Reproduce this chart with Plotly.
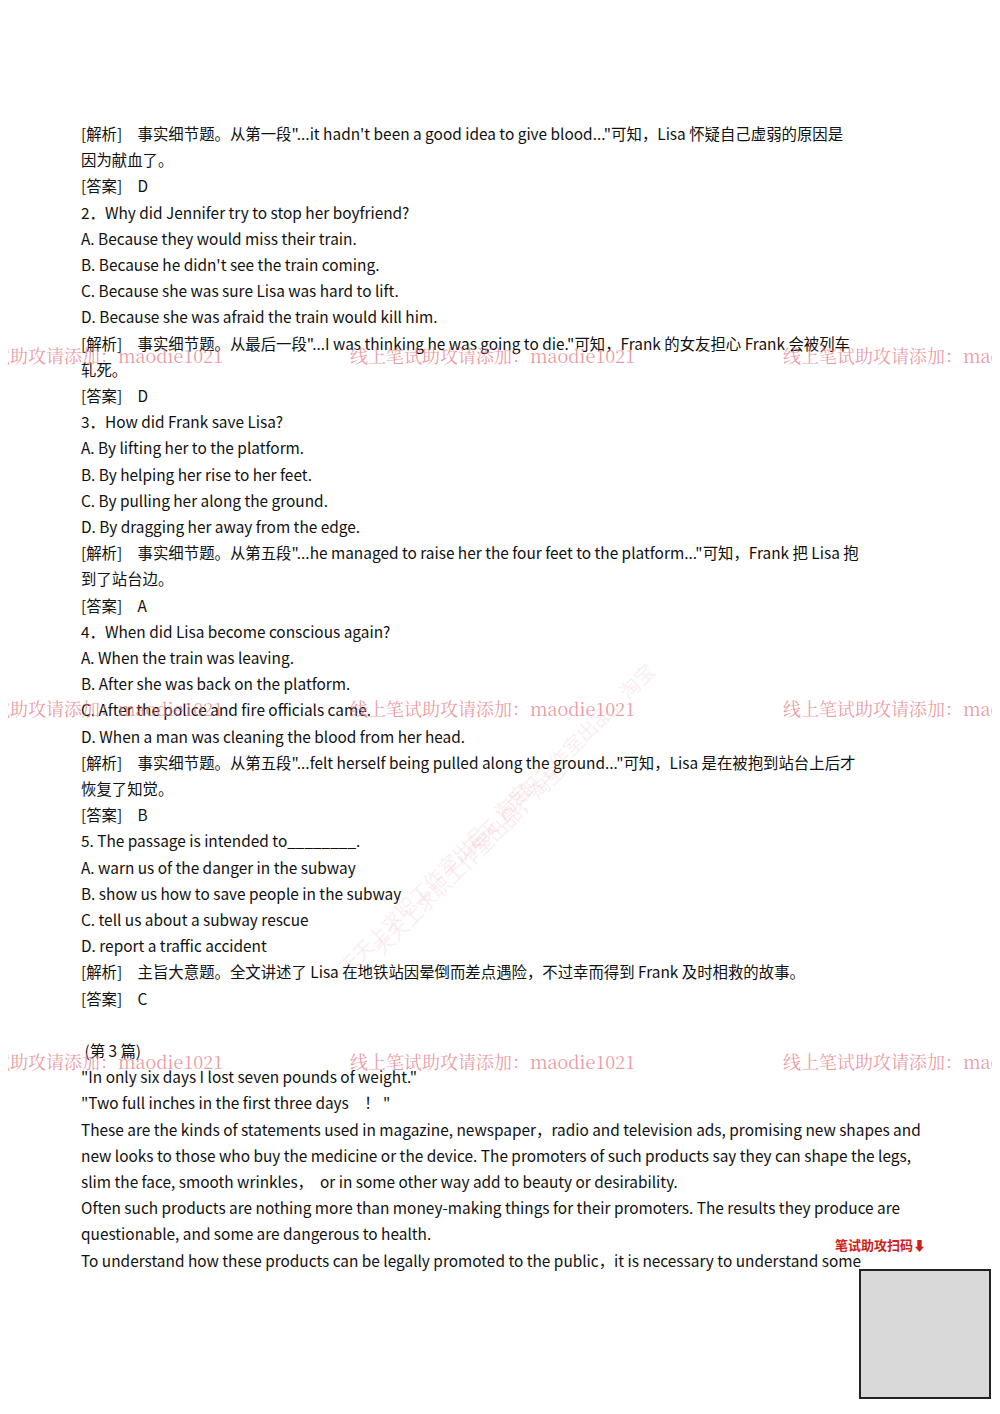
import plotly.graph_objects as go

# document lines (one entry per printed line, "" = blank line)
lines = [
    "[解析]　事实细节题。从第一段\"...it hadn't been a good idea to give blood...\"可知，Lisa 怀疑自己虚弱的原因是",
    "因为献血了。",
    "[答案]　D",
    "2．Why did Jennifer try to stop her boyfriend?",
    "A. Because they would miss their train.",
    "B. Because he didn't see the train coming.",
    "C. Because she was sure Lisa was hard to lift.",
    "D. Because she was afraid the train would kill him.",
    "[解析]　事实细节题。从最后一段\"...I was thinking he was going to die.\"可知，Frank 的女友担心 Frank 会被列车",
    "轧死。",
    "[答案]　D",
    "3．How did Frank save Lisa?",
    "A. By lifting her to the platform.",
    "B. By helping her rise to her feet.",
    "C. By pulling her along the ground.",
    "D. By dragging her away from the edge.",
    "[解析]　事实细节题。从第五段\"...he managed to raise her the four feet to the platform...\"可知，Frank 把 Lisa 抱",
    "到了站台边。",
    "[答案]　A",
    "4．When did Lisa become conscious again?",
    "A. When the train was leaving.",
    "B. After she was back on the platform.",
    "C. After the police and fire officials came.",
    "D. When a man was cleaning the blood from her head.",
    "[解析]　事实细节题。从第五段\"...felt herself being pulled along the ground...\"可知，Lisa 是在被抱到站台上后才",
    "恢复了知觉。",
    "[答案]　B",
    "5. The passage is intended to________.",
    "A. warn us of the danger in the subway",
    "B. show us how to save people in the subway",
    "C. tell us about a subway rescue",
    "D. report a traffic accident",
    "[解析]　主旨大意题。全文讲述了 Lisa 在地铁站因晕倒而差点遇险，不过幸而得到 Frank 及时相救的故事。",
    "[答案]　C",
    "",
    " (第 3 篇)",
    "\"In only six days I lost seven pounds of weight.\"",
    "\"Two full inches in the first three days　！ \"",
    "These are the kinds of statements used in magazine, newspaper，radio and television ads, promising new shapes and",
    "new looks to those who buy the medicine or the device. The promoters of such products say they can shape the legs,",
    "slim the face, smooth wrinkles，  or in some other way add to beauty or desirability.",
    "Often such products are nothing more than money-making things for their promoters. The results they produce are",
    "questionable, and some are dangerous to health.",
    "To understand how these products can be legally promoted to the public，it is necessary to understand some",
]
watermark = "线上笔试助攻请添加：maodie1021"
watermark_rows = [357, 710, 1063]
watermark_cols = [-72, 340, 773]

W, H = 1000, 1414
fig = go.Figure()
top, step = 125, 26.2

for i, t in enumerate(lines):
    if not t:
        continue
    fig.add_annotation(
        x=71 / W, y=1 - (top + i * step) / H, xref="paper", yref="paper",
        text=t, showarrow=False, xanchor="left", yanchor="middle",
        font=dict(family="Noto Sans CJK SC, Noto Sans", size=15.4, color="#111"))

for ry in watermark_rows:
    for cx in watermark_cols:
        fig.add_annotation(
            x=cx / W, y=1 - (ry - 10) / H, xref="paper", yref="paper",
            text=watermark, showarrow=False, xanchor="left", yanchor="middle",
            font=dict(family="Noto Serif CJK SC, DejaVu Serif", size=18, color="rgba(230,120,130,0.75)"))

# faint diagonal watermarks
for tx, ty in [(320, 870), (460, 850), (550, 750)]:
    fig.add_annotation(
        x=tx / W, y=1 - ty / H, xref="paper", yref="paper",
        text="天天上求职工作室出品，淘宝", showarrow=False, textangle=-45,
        font=dict(family="Noto Sans CJK SC", size=20, color="rgba(230,150,160,0.18)"))

fig.add_annotation(
    x=920 / W, y=1 - 1248 / H, xref="paper", yref="paper",
    text="<b>笔试助攻扫码⬇</b>", showarrow=False,
    font=dict(family="Noto Sans CJK SC", size=13, color="#d0201a"))
fig.add_shape(type="rect", xref="paper", yref="paper",
              x0=852 / W, x1=982 / W, y0=1 - 1390 / H, y1=1 - 1262 / H,
              line=dict(color="#222", width=2), fillcolor="rgba(0,0,0,0.15)")

fig.update_layout(
    width=W, height=H, margin=dict(l=0, r=0, t=0, b=0),
    paper_bgcolor="white", plot_bgcolor="white",
    xaxis=dict(visible=False), yaxis=dict(visible=False), showlegend=False)

fig.write_html("out.html")
